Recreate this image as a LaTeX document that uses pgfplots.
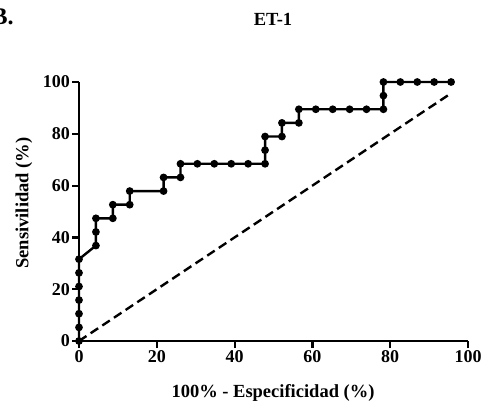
\documentclass[border=0pt]{standalone}
\usepackage{pgfplots}
\pgfplotsset{compat=1.18}
\usepackage{fontspec}
\setmainfont{Liberation Serif}
\begin{document}
\begin{tikzpicture}[x=1pt,y=1pt]
\begin{axis}[
  at={(79pt,67pt)}, anchor=south west,
  scale only axis, width=389pt, height=259pt,
  xmin=0, xmax=100, ymin=0, ymax=100,
  axis x line=bottom, axis y line=left,
  axis line style={-, line width=2.4pt, black},
  xtick={0,20,...,100}, ytick={0,20,...,100},
  tick align=outside, major tick length=7pt,
  tick style={line width=2.2pt, black},
  ticklabel style={font=\bfseries\fontsize{18}{18}\selectfont},
  xticklabel style={yshift=1pt},
  yticklabel style={xshift=1.5pt},
  /pgf/number format/assume math mode=true,
  clip=false,
]
\addplot[black, line width=2.4pt, mark=*, mark size=2.6pt] coordinates {
(0,0) (0,5.26) (0,10.53) (0,15.79) (0,21.05) (0,26.32) (0,31.58)
(4.35,36.84) (4.35,42.11) (4.35,47.37)
(8.70,47.37) (8.70,52.63)
(13.04,52.63) (13.04,57.89)
(21.74,57.89) (21.74,63.16)
(26.09,63.16) (26.09,68.42)
(30.43,68.42) (34.78,68.42) (39.13,68.42) (43.48,68.42) (47.83,68.42)
(47.83,73.68) (47.83,78.95)
(52.17,78.95) (52.17,84.21)
(56.52,84.21) (56.52,89.47)
(60.87,89.47) (65.22,89.47) (69.57,89.47) (73.91,89.47) (78.26,89.47)
(78.26,94.74) (78.26,100)
(82.61,100) (86.96,100) (91.30,100) (95.65,100)
};
\addplot[black, line width=2.4pt, dash pattern=on 9pt off 5pt] coordinates {(0,0) (95.65,95.65)};
\end{axis}
\node[font=\bfseries\fontsize{18.5}{18.5}\selectfont] at (273pt,389pt) {ET-1};
\node[font=\bfseries\fontsize{24}{24}\selectfont, anchor=base west] at (-12pt,383pt) {B.};
\node[font=\bfseries\fontsize{18.5}{18.5}\selectfont, rotate=90] at (24pt,205pt) {Sensivilidad (\%)};
\node[font=\bfseries\fontsize{18.5}{18.5}\selectfont] at (273pt,15pt) {100\% - Especificidad (\%)};
\pgfresetboundingbox
\useasboundingbox (0,0) rectangle (481pt,408pt);
\end{tikzpicture}
\end{document}
